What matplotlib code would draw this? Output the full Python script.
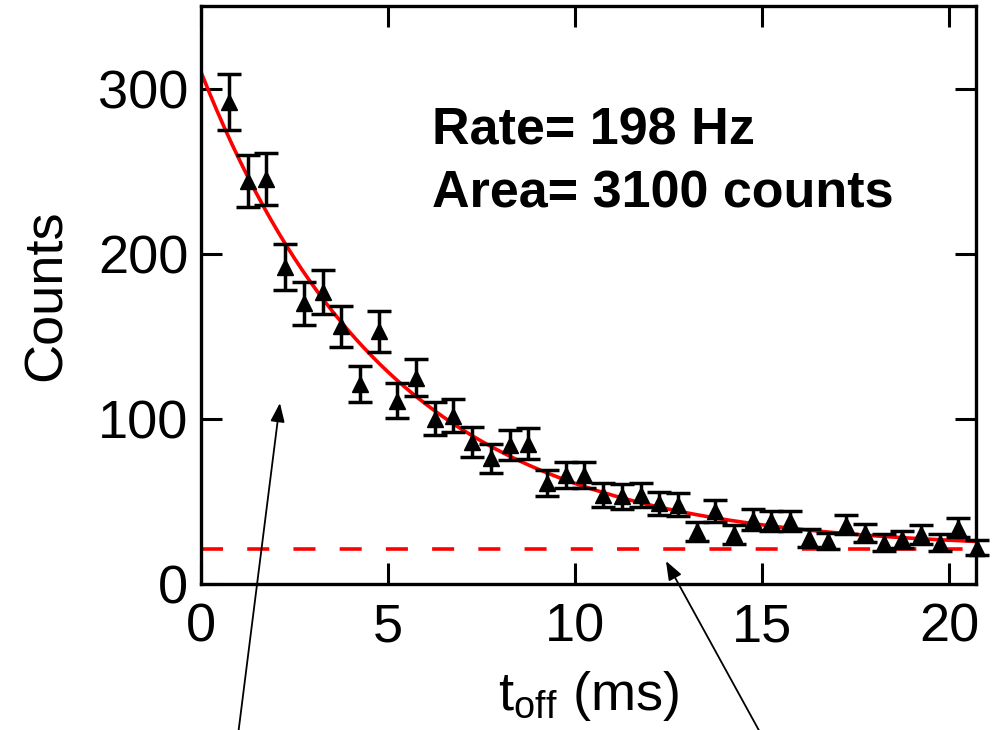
import numpy as np
import matplotlib
matplotlib.use("Agg")
import matplotlib.pyplot as plt

plt.rcParams["font.family"] = "Liberation Sans"
plt.rcParams["mathtext.fontset"] = "custom"
plt.rcParams["mathtext.rm"] = "Liberation Sans"
plt.rcParams["mathtext.it"] = "Liberation Sans"

# ---- data ----
t_off = [0.75, 1.25, 1.75, 2.25, 2.75, 3.25, 3.75, 4.25, 4.75, 5.25,
         5.75, 6.25, 6.75, 7.25, 7.75, 8.25, 8.75, 9.25, 9.75, 10.25,
         10.75, 11.25, 11.75, 12.25, 12.75, 13.25, 13.75, 14.25, 14.75, 15.25,
         15.75, 16.25, 16.75, 17.25, 17.75, 18.25, 18.75, 19.25, 19.75, 20.25,
         20.75]
counts = [292, 244, 245, 192, 170, 177, 156, 121, 153, 111,
          125, 100, 102, 86, 76, 84, 85, 61, 66, 66,
          54, 53, 54, 49, 48, 32, 44, 30, 39, 38,
          38, 28, 26, 36, 31, 25, 27, 30, 25, 34,
          22]
count_err = [17.1, 15.6, 15.7, 13.9, 13.0, 13.3, 12.5, 11.0, 12.4, 10.5,
             11.2, 10.0, 10.1, 9.3, 8.7, 9.2, 9.2, 7.8, 8.1, 8.1,
             7.3, 7.3, 7.3, 7.0, 6.9, 5.7, 6.6, 5.5, 6.2, 6.2,
             6.2, 5.3, 5.1, 6.0, 5.6, 5.0, 5.2, 5.5, 5.0, 5.8,
             4.7]

# exponential fit shown in red (rate in 1/ms, amplitude and background in counts)
fit_rate = 0.198
fit_amp = 289
fit_bg = 21

x_ticks = [0, 5, 10, 15, 20]
y_ticks = [0, 100, 200, 300]

RED = "#ff0000"

fig = plt.figure(figsize=(9.97, 7.3), dpi=100)
ax = fig.add_axes([0.2016, 0.2, 0.7774, 0.7918])

t_fit = np.linspace(0, 20.72, 300)
ax.plot(t_fit, fit_bg + fit_amp * np.exp(-fit_rate * t_fit), color=RED, lw=2.6, zorder=2)
ax.axhline(fit_bg, color=RED, lw=2.6, dashes=(6.1, 6.7), zorder=2)

ax.errorbar(t_off, counts, yerr=count_err, fmt="^", color="black", ms=11.5,
            elinewidth=2.5, capsize=8.8, capthick=2.5, clip_on=False, zorder=3)

ax.set_xlim(0, 20.72)
ax.set_ylim(0, 350)
ax.set_xticks(x_ticks)
ax.set_yticks(y_ticks)

for s in ax.spines.values():
    s.set_linewidth(2.4)
ax.tick_params(direction="in", length=15, width=2.2, labelsize=39,
               top=True, right=True)
ax.tick_params(axis="x", pad=13)
ax.tick_params(axis="y", pad=9)

ax.set_xlabel(r"$\mathregular{t_{off}}$ (ms)", fontsize=39, labelpad=12)
ax.set_ylabel("Counts", fontsize=39, labelpad=19)

ax.text(6.18, 266, "Rate= 198 Hz", fontsize=37.5, weight="bold", va="baseline")
ax.text(6.18, 228, "Area= 3100 counts", fontsize=37.5, weight="bold", va="baseline")

arrow_kw = dict(arrowstyle="-|>,head_length=0.95,head_width=0.36", color="black",
                lw=1.3, mutation_scale=12, shrinkA=0, shrinkB=0)
ax.annotate("", xy=(2.11, 109.6), xytext=(0.97, -95), arrowprops=arrow_kw,
            annotation_clip=False)
ax.annotate("", xy=(12.43, 13.9), xytext=(15.07, -95), arrowprops=arrow_kw,
            annotation_clip=False)

fig.savefig("out.png", dpi=100)
